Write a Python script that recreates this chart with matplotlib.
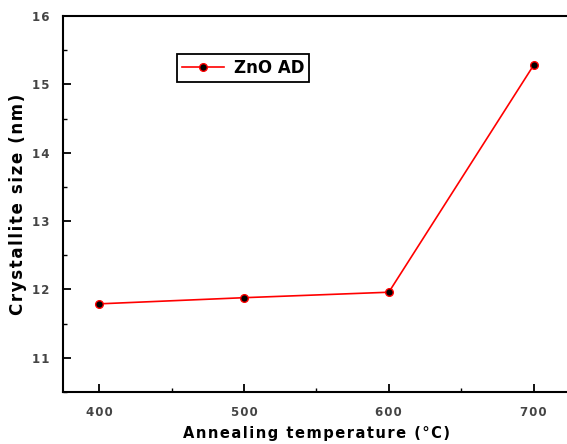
import matplotlib
matplotlib.use("Agg")
import matplotlib.pyplot as plt
from matplotlib.ticker import MultipleLocator

# Données : taille des cristallites vs température de recuit
temperature = [400, 500, 600, 700]
crystallite_size = [11.79, 11.88, 11.96, 15.28]
series_label = "ZnO AD"


def spaced(txt, sep='\u200a'):
    # espacement léger entre les lettres
    return sep.join(txt)


fig = plt.figure(figsize=(5.67, 4.44), dpi=100)
ax = fig.add_axes([0.111, 0.117, 0.894, 0.847])

ax.plot(temperature, crystallite_size, '-o', color='red', linewidth=1.2,
        markersize=5.5, markerfacecolor='black', markeredgecolor='red',
        markeredgewidth=1.0, label=series_label)

ax.set_xlim(375, 725)
ax.set_ylim(10.5, 16)
ax.xaxis.set_major_locator(MultipleLocator(100))
ax.xaxis.set_minor_locator(MultipleLocator(50))
ax.yaxis.set_major_locator(MultipleLocator(1))
ax.yaxis.set_minor_locator(MultipleLocator(0.5))

ax.tick_params(which='major', direction='in', length=6, width=1.3,
               labelsize=8.5, labelcolor='#444444', pad=10)
ax.tick_params(which='minor', direction='in', length=3, width=1.0)
ax.tick_params(axis='y', pad=10)
ax.set_xticks([400, 500, 600, 700], [spaced(str(v)) for v in [400, 500, 600, 700]])
ax.set_yticks([11, 12, 13, 14, 15, 16], [spaced(str(v)) for v in [11, 12, 13, 14, 15, 16]])
for lab in ax.get_xticklabels() + ax.get_yticklabels():
    lab.set_fontweight('bold')

for s in ax.spines.values():
    s.set_linewidth(1.5)

ax.set_xlabel(spaced('Annealing temperature (°C)'), fontsize=10.5,
              fontweight='bold', labelpad=5)
ax.set_ylabel(spaced('Crystallite size (nm)'), fontsize=12,
              fontweight='bold', labelpad=3)

leg = ax.legend(loc='upper left', bbox_to_anchor=(0.225, 0.899),
                borderaxespad=0, fancybox=False, edgecolor='black',
                framealpha=1, prop={'weight': 'bold', 'size': 12},
                handlelength=2.5, borderpad=0.3, handletextpad=0.6)
leg.get_frame().set_linewidth(1.3)

plt.savefig('out.png', dpi=100)
